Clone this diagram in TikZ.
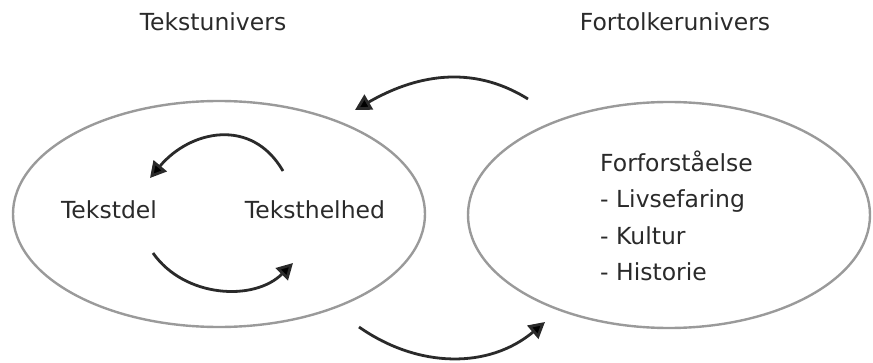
\documentclass[tikz,border=0pt]{standalone}
\usepackage{fontspec}
\setmainfont{DejaVu Sans}
\usepackage{tikz}
\usetikzlibrary{shapes.geometric,arrows.meta}
\definecolor{textgray}{HTML}{2A2A2A}
\definecolor{rimgray}{HTML}{9A9A9A}
\tikzstyle{univers} = [ellipse, draw=rimgray, line width=2.4pt, inner sep=0pt]
\tikzstyle{label} = [text=textgray, font=\fontsize{23.5}{28}\selectfont, inner sep=0pt]
\tikzstyle{line} = [draw=textgray, line width=2.8pt, -{Triangle[length=16pt,width=17pt,fill=black]}]

\begin{document}
\begin{tikzpicture}[x=1pt, y=1pt]
    \useasboundingbox (0,0) rectangle (873,362);
    \node [univers, minimum width=412pt, minimum height=226pt] (tekst) at (219,148) {};
    \node [univers, minimum width=402pt, minimum height=226pt] (fortolker) at (669,147) {};

    \node [label, anchor=base] (tekstunivers) at (213,331) {Tekstunivers};
    \node [label, anchor=base] (fortolkerunivers) at (675,331) {Fortolkerunivers};
    \node [label, anchor=base] (del) at (109,143) {Tekstdel};
    \node [label, anchor=base] (helhed) at (315,143) {Teksthelhed};
    \node [label, anchor=base west] (forst) at (600,190) {Forforståelse};
    \node [label, anchor=base west] (liv) at (600,154) {- Livsefaring};
    \node [label, anchor=base west] (kultur) at (600,118) {- Kultur};
    \node [label, anchor=base west] (historie) at (600,82) {- Historie};

    % ends of the arcs
    \coordinate (outA) at (528,263);
    \coordinate (inA) at (355,252);
    \coordinate (outB) at (359,35);
    \coordinate (inB) at (545,40);
    \coordinate (helhedtop) at (283,191);
    \coordinate (deltop) at (150,184);
    \coordinate (delbot) at (153,109);
    \coordinate (helhedbot) at (293,99);

    \path [line] (outA) to[out=148, in=30] (inA);
    \path [line] (outB) to[out=-35, in=220] (inB);
    \path [line] (helhedtop) to[out=120, in=50, looseness=1.2] (deltop);
    \path [line] (delbot) to[out=-55, in=225] (helhedbot);
\end{tikzpicture}
\end{document}
